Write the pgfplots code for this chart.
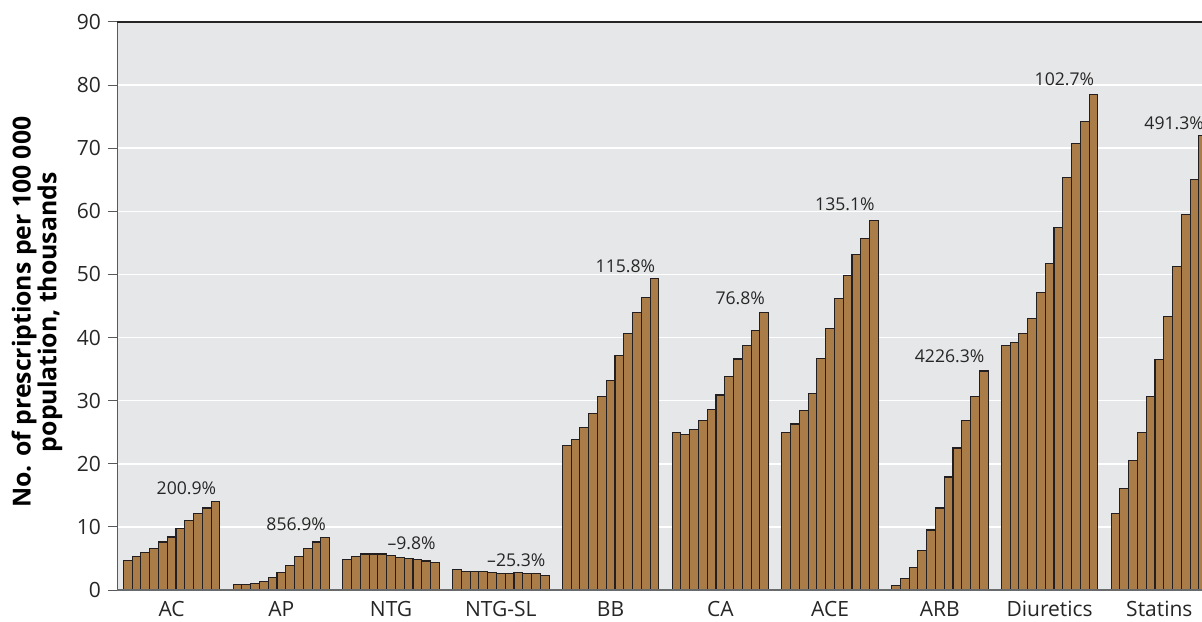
\documentclass[border=0pt]{standalone}
\usepackage{pgfplots}
\pgfplotsset{compat=1.18}
\usepackage{pgfplotstable}
\usepackage{fontspec}
\setmainfont{Open Sans}
\definecolor{barfill}{HTML}{A97C48}
\definecolor{baredge}{HTML}{231F20}
\definecolor{bgcol}{HTML}{E6E7E8}
\definecolor{axgray}{HTML}{58595B}
\pgfplotstableread{
g j y
0 0 4.7
0 1 5.3
0 2 5.9
0 3 6.6
0 4 7.6
0 5 8.4
0 6 9.8
0 7 11.0
0 8 12.1
0 9 13.0
0 10 14.0
1 0 0.9
1 1 0.9
1 2 1.0
1 3 1.4
1 4 2.0
1 5 2.8
1 6 3.9
1 7 5.3
1 8 6.6
1 9 7.6
1 10 8.3
2 0 4.9
2 1 5.3
2 2 5.7
2 3 5.7
2 4 5.7
2 5 5.5
2 6 5.2
2 7 5.0
2 8 4.9
2 9 4.6
2 10 4.4
3 0 3.2
3 1 2.9
3 2 2.9
3 3 2.9
3 4 2.8
3 5 2.65
3 6 2.65
3 7 2.8
3 8 2.65
3 9 2.65
3 10 2.35
4 0 22.9
4 1 23.9
4 2 25.7
4 3 28.0
4 4 30.6
4 5 33.2
4 6 37.1
4 7 40.7
4 8 44.0
4 9 46.4
4 10 49.3
5 0 25.0
5 1 24.7
5 2 25.5
5 3 26.8
5 4 28.6
5 5 30.9
5 6 33.8
5 7 36.6
5 8 38.7
5 9 41.1
5 10 44.0
6 0 25.0
6 1 26.3
6 2 28.4
6 3 31.2
6 4 36.7
6 5 41.5
6 6 46.2
6 7 49.8
6 8 53.1
6 9 55.7
6 10 58.6
7 0 0.75
7 1 1.85
7 2 3.5
7 3 6.3
7 4 9.5
7 5 13.0
7 6 17.9
7 7 22.5
7 8 26.8
7 9 30.6
7 10 34.7
8 0 38.7
8 1 39.2
8 2 40.7
8 3 43.0
8 4 47.2
8 5 51.7
8 6 57.5
8 7 65.3
8 8 70.7
8 9 74.3
8 10 78.5
9 0 12.1
9 1 16.1
9 2 20.5
9 3 25.0
9 4 30.7
9 5 36.5
9 6 43.3
9 7 51.2
9 8 59.5
9 9 65.1
9 10 72.0
}\data
\begin{document}
\begin{tikzpicture}
\path[use as bounding box] (-58.5pt,-15.5pt) rectangle (542.5pt,295pt);
\begin{axis}[
  at={(0,0)}, anchor=south west,
  scale only axis, width=542.5pt, height=284pt,
  xmin=-1.218, xmax=122.36, ymin=0, ymax=90,
  axis background/.style={fill=bgcol},
  axis line style={draw=none},
  ytick={0,10,...,90},
  ymajorgrids, grid style={white, line width=0.75pt},
  tick align=outside, major tick length=4.5pt,
  ytick style={axgray, line width=0.5pt},
  xtick={5,17.5,30,42.5,55,67.5,80,92.5,105,117.5},
  xticklabels={AC,AP,NTG,NTG-SL,BB,CA,ACE,ARB,Diuretics,Statins},
  xtick style={draw=none},
  xticklabel style={anchor=base, inner sep=0pt, yshift=-8.6pt, font=\fontsize{10.5}{12}\selectfont, text=black!85},
  yticklabel style={font=\fontsize{10.5}{12}\selectfont, text=black!85},
  /pgf/number format/assume math mode=true,
  ylabel={No. of prescriptions per 100 000\\population, thousands},
  ylabel style={at={(-0.0737,0.489)}, anchor=center, align=center, font=\bfseries\fontsize{12.4}{12.8}\selectfont},
  clip=true,
]
\addplot[ybar, bar width=1, fill=barfill, draw=baredge, line width=0.55pt]
  table[x expr=\thisrow{g}*12.5+\thisrow{j}, y=y] {\data};
\draw[axgray, line width=0.5pt] (rel axis cs:0,0) -- (rel axis cs:0,1);
\draw[black!85, line width=0.6pt] (rel axis cs:0,1) -- (rel axis cs:1,1);
\draw[axgray!90, line width=1pt] (rel axis cs:0,0) -- (rel axis cs:1,0);
\end{axis}
\begin{axis}[
  at={(0,0)}, anchor=south west,
  scale only axis, width=542.5pt, height=284pt,
  xmin=-1.218, xmax=122.36, ymin=0, ymax=90,
  hide axis, clip=false,
]
\addplot[draw=none, mark=none, nodes near coords, point meta=explicit symbolic,
  nodes near coords style={anchor=base east, inner sep=0pt, font=\fontsize{8.8}{10}\selectfont, text=black!85},
  nodes near coords align={anchor=base east}]
  coordinates {
  (10.12,15.07) [200.9\%]
  (22.62,9.37) [856.9\%]
  (35.12,6.34) [--9.8\%]
  (47.62,3.69) [--25.3\%]
  (60.12,50.35) [115.8\%]
  (72.62,45.17) [76.8\%]
  (85.12,60.2) [135.1\%]
  (97.62,36.0) [4226.3\%]
  (110.12,80.0) [102.7\%]
  (122.62,73.0) [491.3\%]
  };
\end{axis}
\end{tikzpicture}
\end{document}
